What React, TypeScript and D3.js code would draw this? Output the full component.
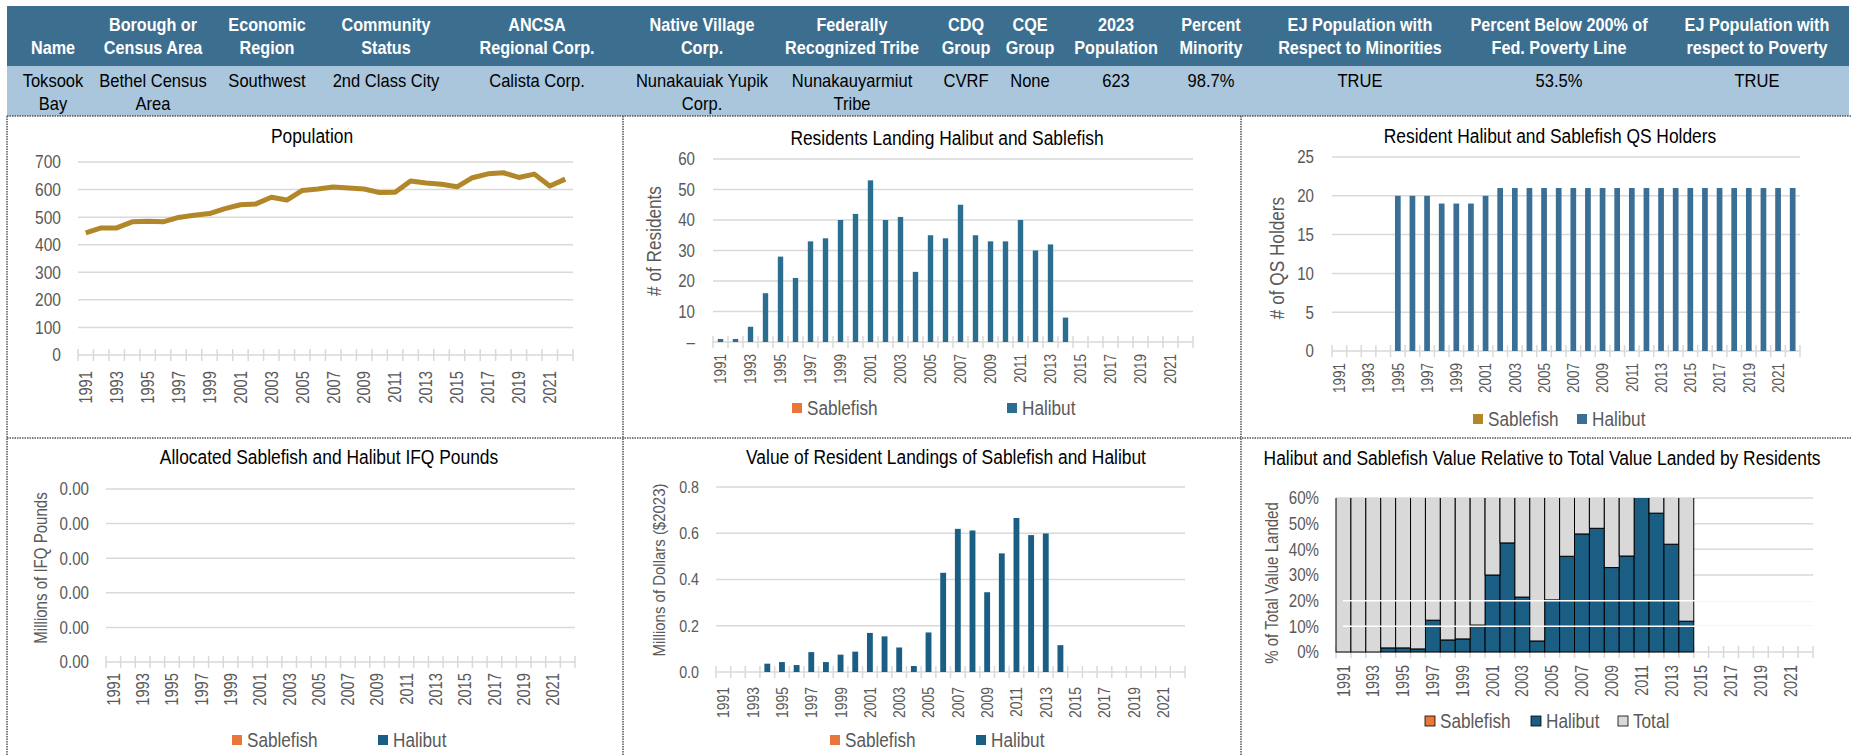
import React from 'react';
import * as d3 from 'd3';

// ---------------- DATA ----------------
const years = ['1991','1992','1993','1994','1995','1996','1997','1998','1999','2000','2001','2002','2003','2004','2005','2006','2007','2008','2009','2010','2011','2012','2013','2014','2015','2016','2017','2018','2019','2020','2021','2022'];

const headerLabels = [
  ['', 'Name'],
  ['Borough or', 'Census Area'],
  ['Economic', 'Region'],
  ['Community', 'Status'],
  ['ANCSA', 'Regional Corp.'],
  ['Native Village', 'Corp.'],
  ['Federally', 'Recognized Tribe'],
  ['CDQ', 'Group'],
  ['CQE', 'Group'],
  ['2023', 'Population'],
  ['Percent', 'Minority'],
  ['EJ Population with', 'Respect to Minorities'],
  ['Percent Below 200% of', 'Fed. Poverty Line'],
  ['EJ Population with', 'respect to Poverty'],
];
const rowValues = [
  ['Toksook', 'Bay'],
  ['Bethel Census', 'Area'],
  ['Southwest', ''],
  ['2nd Class City', ''],
  ['Calista Corp.', ''],
  ['Nunakauiak Yupik', 'Corp.'],
  ['Nunakauyarmiut', 'Tribe'],
  ['CVRF', ''],
  ['None', ''],
  ['623', ''],
  ['98.7%', ''],
  ['TRUE', ''],
  ['53.5%', ''],
  ['TRUE', ''],
];
const columnCenters = [53, 153, 267, 386, 537, 702, 852, 966, 1030, 1116, 1211, 1360, 1559, 1757];

const population = [443,461,461,483,485,483,499,507,513,531,545,548,572,562,597,602,609,606,602,589,590,631,624,619,610,643,657,661,644,656,613,638];

const residentsSablefish = [null,null,null,null,null,null,null,null,null,null,null,null,null,null,null,null,null,null,null,null,null,null,null,null,null,null,null,null,null,null,null,null];
const residentsHalibut = [1,1,5,16,28,21,33,34,40,42,53,40,41,23,35,34,45,35,33,33,40,30,32,8,null,null,null,null,null,null,null,null];

const qsSablefish = [0,0,0,0,0,0,0,0,0,0,0,0,0,0,0,0,0,0,0,0,0,0,0,0,0,0,0,0,0,0,0,0];
const qsHalibut = [0,0,0,0,20,20,20,19,19,19,20,21,21,21,21,21,21,21,21,21,21,21,21,21,21,21,21,21,21,21,21,21];

const ifqSablefish = [0,0,0,0,0,0,0,0,0,0,0,0,0,0,0,0,0,0,0,0,0,0,0,0,0,0,0,0,0,0,0,0];
const ifqHalibut = [0,0,0,0,0,0,0,0,0,0,0,0,0,0,0,0,0,0,0,0,0,0,0,0,0,0,0,0,0,0,0,0];

const valueSablefish = [null,null,null,null,null,null,null,null,null,null,null,null,null,null,null,null,null,null,null,null,null,null,null,null,null,null,null,null,null,null,null,null];
const valueHalibut = [0,0,0,0.036,0.043,0.030,0.086,0.043,0.075,0.088,0.169,0.154,0.106,0.026,0.171,0.429,0.619,0.612,0.345,0.513,0.666,0.592,0.599,0.116,null,null,null,null,null,null,null,null];

const pctSablefish = [0,0,0,0,0,0,0,0,0,0,0,0,0,0,0,0,0,0,0,0,0,0,0,0,null,null,null,null,null,null,null,null];
const pctHalibut = [0,0,0,1.6,1.6,1.2,12.4,4.7,5.1,10.5,30.0,42.5,21.4,4.3,20.3,37.3,46.0,48.2,32.9,37.4,62.0,54.1,42.0,12.0,null,null,null,null,null,null,null,null];
const pctTotal = [100,100,100,98.4,98.4,98.8,87.6,95.3,94.9,89.5,70.0,57.5,78.6,95.7,79.7,62.7,54.0,51.8,67.1,62.6,38.0,45.9,58.0,88.0,null,null,null,null,null,null,null,null];

const popTicks = [0,100,200,300,400,500,600,700];
const residentTicks = [0,10,20,30,40,50,60];
const qsTicks = [0,5,10,15,20,25];
const ifqTicks = [0,0.0008,0.0016,0.0024,0.0032,0.004];
const valueTicks = [0,0.2,0.4,0.6,0.8];
const pctTicks = [0,10,20,30,40,50,60];

// ---------------- STYLE ----------------
const FONT = "'Liberation Sans', Arial, sans-serif";
const GRID = '#D9D9D9';
const LABEL = '#595959';
const ORANGE = '#E9773A';
const GOLD = '#B1872A';
const BLUE_RES = '#2B6E8F';
const BLUE_QS = '#3A6E95';
const BLUE_DARK = '#1A5E84';

function T({ x, y, children, size, anchor = 'start', rot = 0, fill = LABEL, weight, dy = '0.35em', c = 0.86 }: any) {
  const tr = `translate(${x},${y})` + (rot ? ` rotate(${rot})` : '') + ` scale(${c},1)`;
  return (
    <text transform={tr} textAnchor={anchor} fontSize={size} fill={fill} fontWeight={weight} dy={dy} fontFamily={FONT}>
      {children}
    </text>
  );
}

function XAxis({ x, y0, off, size }: { x: d3.ScaleBand<string>; y0: number; off: number; size: number }) {
  const [r0, r1] = x.range();
  const bw = x.bandwidth();
  const edges = years.map((yr) => x(yr) as number).concat([r1]);
  return (
    <g>
      <line x1={r0} x2={r1} y1={y0} y2={y0} stroke={GRID} strokeWidth={1.5} />
      {edges.map((ex, i) => (
        <line key={i} x1={ex} x2={ex} y1={y0 - 6} y2={y0 + 6} stroke={GRID} strokeWidth={1.5} />
      ))}
      {years.map((yr, i) =>
        i % 2 === 0 ? (
          <T key={yr} x={(x(yr) as number) + bw / 2} y={y0 + off} rot={-90} anchor="end" size={size} c={0.82}>
            {yr}
          </T>
        ) : null
      )}
    </g>
  );
}

function YGrid({ y, ticks, x0, x1, labelX, fmt, size = 18 }: any) {
  return (
    <g>
      {ticks.map((t: number, i: number) => (
        <g key={i}>
          {i > 0 && <line x1={x0} x2={x1} y1={y(t)} y2={y(t)} stroke={GRID} strokeWidth={1.5} />}
          <T x={labelX} y={y(t)} anchor="end" size={size} c={0.84}>
            {fmt(t)}
          </T>
        </g>
      ))}
    </g>
  );
}

function Title({ x, y, text }: { x: number; y: number; text: string }) {
  return (
    <T x={x} y={y} anchor="middle" size={20} fill="#000" c={0.87}>
      {text}
    </T>
  );
}

function YTitle({ x, y, text, size }: { x: number; y: number; text: string; size: number }) {
  return (
    <T x={x} y={y} rot={-90} anchor="middle" size={size}>
      {text}
    </T>
  );
}

function Legend({ items, y }: { items: { x: number; label: string; color: string; outline?: boolean }[]; y: number }) {
  return (
    <g>
      {items.map((it) => (
        <g key={it.label}>
          <rect x={it.x} y={y - 5} width={10} height={10} fill={it.color} stroke={it.outline ? '#000' : 'none'} strokeWidth={0.8} />
          <T x={it.x + 15} y={y} size={19.5} c={0.88}>
            {it.label}
          </T>
        </g>
      ))}
    </g>
  );
}

function SimpleBars({ x, y, values, color, widthRatio }: any) {
  const bw = x.bandwidth() * widthRatio;
  return (
    <g>
      {values.map((v: number | null, i: number) =>
        v == null || v === 0 ? null : (
          <rect
            key={i}
            x={(x(years[i]) as number) + (x.bandwidth() - bw) / 2}
            y={y(v)}
            width={bw}
            height={y(0) - y(v)}
            fill={color}
          />
        )
      )}
    </g>
  );
}

function PopulationChart() {
  const x = d3.scaleBand<string>().domain(years).range([78, 573]);
  const y = d3.scaleLinear().domain([0, 700]).range([355, 162]);
  const line = d3
    .line<number>()
    .x((_, i) => (x(years[i]) as number) + x.bandwidth() / 2)
    .y((d) => y(d));
  return (
    <g>
      <Title x={312} y={136} text="Population" />
      <YGrid y={y} ticks={popTicks} x0={78} x1={573} labelX={61} fmt={(t: number) => String(t)} size={18.5} />
      <XAxis x={x} y0={355} off={16} size={18} />
      <path d={line(population) || ''} fill="none" stroke={GOLD} strokeWidth={5} strokeLinejoin="round" />
    </g>
  );
}

function ResidentsChart() {
  const x = d3.scaleBand<string>().domain(years).range([713, 1193]);
  const y = d3.scaleLinear().domain([0, 60]).range([342, 159]);
  return (
    <g>
      <Title x={947} y={138} text="Residents Landing Halibut and Sablefish" />
      <YTitle x={654} y={241} text="# of Residents" size={20} />
      <YGrid y={y} ticks={residentTicks} x0={713} x1={1193} labelX={695} fmt={(t: number) => (t === 0 ? '–' : String(t))} />
      <XAxis x={x} y0={342} off={12} size={16.5} />
      <SimpleBars x={x} y={y} values={residentsSablefish} color={ORANGE} widthRatio={0.36} />
      <SimpleBars x={x} y={y} values={residentsHalibut} color={BLUE_RES} widthRatio={0.36} />
      <Legend
        y={408}
        items={[
          { x: 792, label: 'Sablefish', color: ORANGE },
          { x: 1007, label: 'Halibut', color: BLUE_RES },
        ]}
      />
    </g>
  );
}

function QSChart() {
  const x = d3.scaleBand<string>().domain(years).range([1332, 1800]);
  const y = d3.scaleLinear().domain([0, 25]).range([351, 157]);
  return (
    <g>
      <Title x={1550} y={136} text="Resident Halibut and Sablefish QS Holders" />
      <YTitle x={1277} y={258} text="# of QS Holders" size={20} />
      <YGrid y={y} ticks={qsTicks} x0={1332} x1={1800} labelX={1314} fmt={(t: number) => String(t)} />
      <XAxis x={x} y0={351} off={12} size={16.5} />
      <SimpleBars x={x} y={y} values={qsSablefish} color={GOLD} widthRatio={0.39} />
      <SimpleBars x={x} y={y} values={qsHalibut} color={BLUE_QS} widthRatio={0.39} />
      <Legend
        y={419}
        items={[
          { x: 1473, label: 'Sablefish', color: GOLD },
          { x: 1577, label: 'Halibut', color: BLUE_QS },
        ]}
      />
    </g>
  );
}

function IFQChart() {
  const x = d3.scaleBand<string>().domain(years).range([106, 575]);
  const y = d3.scaleLinear().domain([0, 0.004]).range([662, 489]);
  const fmt = d3.format('.2f');
  return (
    <g>
      <Title x={329} y={457} text="Allocated Sablefish and Halibut IFQ Pounds" />
      <YTitle x={41} y={568} text="Millions of IFQ Pounds" size={17.5} />
      <YGrid y={y} ticks={ifqTicks} x0={106} x1={575} labelX={89} fmt={(t: number) => fmt(t)} />
      <XAxis x={x} y0={662} off={11} size={18} />
      <SimpleBars x={x} y={y} values={ifqSablefish} color={ORANGE} widthRatio={0.4} />
      <SimpleBars x={x} y={y} values={ifqHalibut} color={BLUE_DARK} widthRatio={0.4} />
      <Legend
        y={740}
        items={[
          { x: 232, label: 'Sablefish', color: ORANGE },
          { x: 378, label: 'Halibut', color: BLUE_DARK },
        ]}
      />
    </g>
  );
}

function ValueChart() {
  const x = d3.scaleBand<string>().domain(years).range([716, 1185]);
  const y = d3.scaleLinear().domain([0, 0.8]).range([672, 487]);
  const fmt = d3.format('.1f');
  return (
    <g>
      <Title x={946} y={457} text="Value of Resident Landings of Sablefish and Halibut" />
      <YTitle x={659} y={570} text="Millions of Dollars ($2023)" size={17.4} />
      <YGrid y={y} ticks={valueTicks} x0={716} x1={1185} labelX={699} fmt={(t: number) => fmt(t)} size={17} />
      <XAxis x={x} y0={672} off={15} size={17} />
      <SimpleBars x={x} y={y} values={valueSablefish} color={ORANGE} widthRatio={0.4} />
      <SimpleBars x={x} y={y} values={valueHalibut} color={BLUE_DARK} widthRatio={0.4} />
      <Legend
        y={740}
        items={[
          { x: 830, label: 'Sablefish', color: ORANGE },
          { x: 976, label: 'Halibut', color: BLUE_DARK },
        ]}
      />
    </g>
  );
}

function PctChart() {
  const x0 = 1336, x1 = 1813, yTop = 498, yBase = 652;
  const x = d3.scaleBand<string>().domain(years).range([x0, x1]);
  const y = d3.scaleLinear().domain([0, 60]).range([yBase, yTop]);
  const series = d3
    .stack<any>()
    .keys(['s', 'h', 't'])(
      years.map((yr, i) => ({ yr, s: pctSablefish[i] ?? 0, h: pctHalibut[i] ?? 0, t: pctTotal[i] ?? 0, has: pctTotal[i] != null }))
    );
  const colors: Record<string, string> = { s: ORANGE, h: BLUE_DARK, t: GRID };
  return (
    <g>
      <defs>
        <clipPath id="pctClip">
          <rect x={x0 - 2} y={yTop} width={x1 - x0 + 4} height={yBase - yTop + 1} />
        </clipPath>
      </defs>
      <Title x={1542} y={458} text="Halibut and Sablefish Value Relative to Total Value Landed by Residents" />
      <YTitle x={1272} y={583} text="% of Total Value Landed" size={17.5} />
      <YGrid y={y} ticks={pctTicks} x0={x0} x1={x1} labelX={1319} fmt={(t: number) => `${t}%`} />
      <XAxis x={x} y0={yBase} off={13} size={17.5} />
      <g clipPath="url(#pctClip)">
        {series.map((s) =>
          s.map((d: any, i: number) =>
            !d.data.has || d[1] - d[0] <= 0 ? null : (
              <rect
                key={s.key + i}
                x={x(years[i]) as number}
                y={y(d[1])}
                width={x.bandwidth()}
                height={y(d[0]) - y(d[1])}
                fill={colors[s.key]}
                stroke="#000"
                strokeWidth={1}
              />
            )
          )
        )}
      </g>
      {[10, 20].map((t) => (
        <line key={t} x1={x0 + 7} x2={x1} y1={y(t)} y2={y(t)} stroke="#fff" strokeWidth={1.5} />
      ))}
      <Legend
        y={721}
        items={[
          { x: 1425, label: 'Sablefish', color: ORANGE, outline: true },
          { x: 1531, label: 'Halibut', color: BLUE_DARK, outline: true },
          { x: 1618, label: 'Total', color: GRID, outline: true },
        ]}
      />
    </g>
  );
}

function Header() {
  return (
    <g>
      <rect x={7} y={6} width={1842} height={60} fill="#3C6E8F" />
      <rect x={7} y={66} width={1842} height={50} fill="#A9C6DC" />
      {headerLabels.map((lines, i) => (
        <g key={i}>
          {lines.map((ln, j) =>
            ln ? (
              <T key={j} x={columnCenters[i]} y={25 + j * 23} anchor="middle" size={18} weight="bold" fill="#fff" c={0.9}>
                {ln}
              </T>
            ) : null
          )}
        </g>
      ))}
      {rowValues.map((lines, i) => (
        <g key={i}>
          {lines.map((ln, j) =>
            ln ? (
              <T key={j} x={columnCenters[i]} y={81 + j * 23} anchor="middle" size={18} fill="#000" c={0.92}>
                {ln}
              </T>
            ) : null
          )}
        </g>
      ))}
    </g>
  );
}

function Borders() {
  const st = { stroke: '#555', strokeWidth: 1.5, strokeDasharray: '1.5,1' };
  return (
    <g>
      <line x1={7} x2={1851} y1={116} y2={116} {...st} />
      <line x1={7} x2={1851} y1={438} y2={438} {...st} />
      <line x1={7} x2={7} y1={116} y2={756} {...st} />
      <line x1={623} x2={623} y1={116} y2={756} {...st} />
      <line x1={1241} x2={1241} y1={116} y2={756} {...st} />
    </g>
  );
}

export default function App() {
  return (
    <svg width={1855} height={756} style={{ position: 'absolute', left: 0, top: 0, background: '#fff' }} fontFamily={FONT}>
      <rect x={0} y={0} width={1855} height={756} fill="#fff" />
      <Header />
      <Borders />
      <PopulationChart />
      <ResidentsChart />
      <QSChart />
      <IFQChart />
      <ValueChart />
      <PctChart />
    </svg>
  );
}
